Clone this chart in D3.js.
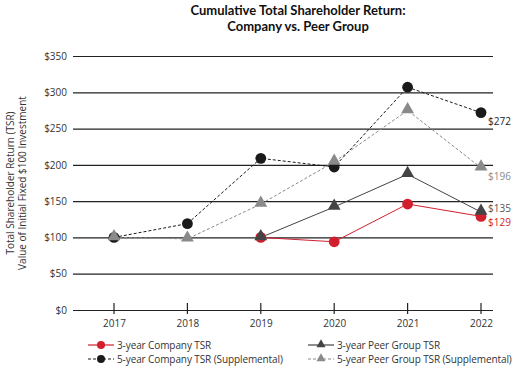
<!DOCTYPE html>
<html><head><meta charset="utf-8">
<script src="https://cdn.jsdelivr.net/npm/d3@7"></script>
<style>
body{margin:0;background:#fff;}
text{font-family:"Open Sans","DejaVu Sans",sans-serif;}
</style></head>
<body><svg id="c" width="516" height="374"></svg>
<script>
const years = ["2017","2018","2019","2020","2021","2022"];
const yTicks = [0,50,100,150,200,250,300,350];
const company3 = [null,null,100,94,146,129];
const peer3 = [null,null,100,142,187,135];
const company5 = [100,119,209,197,307,272];
const peer5 = [100,98,146,204,275,196];
const endLabels = ["$272","$196","$135","$129"];

const svg = d3.select("#c");
const x = d3.scalePoint().domain(years).range([114,481]);
const y = d3.scaleLinear().domain([0,350]).range([310,56]);
const gridX0 = 73, gridX1 = 493;

// title
const tfont = "Lato, 'Open Sans', sans-serif";
svg.append("text").attr("x",298).attr("y",15).attr("text-anchor","middle")
  .style("font-size","13px").style("font-weight","bold").style("font-family",tfont).attr("fill","#111")
  .text("Cumulative Total Shareholder Return:");
svg.append("text").attr("x",298).attr("y",31).attr("text-anchor","middle")
  .style("font-size","13px").style("font-weight","bold").style("font-family",tfont).attr("fill","#111")
  .text("Company vs. Peer Group");

// y axis title
const yt = svg.append("g").attr("transform","translate(14,183) rotate(-90)");
yt.append("text").attr("text-anchor","middle").attr("y",0).style("font-size","10px").attr("fill","#333")
  .text("Total Shareholder Return (TSR)");
yt.append("text").attr("text-anchor","middle").attr("y",12).style("font-size","10px").attr("fill","#333")
  .text("Value of Initial Fixed $100 Investment");

// gridlines + y labels
const yAxis = d3.axisLeft(y).tickValues(yTicks).tickSize(-(gridX1-gridX0)).tickFormat(d=>"$"+d).tickPadding(6);
const ga = svg.append("g").attr("transform",`translate(${gridX0},0)`).call(yAxis);
ga.select(".domain").remove();
ga.selectAll(".tick line").attr("stroke","#222").attr("stroke-width",1.2);
ga.selectAll(".tick text").style("font-size","10px").attr("fill","#333").style("font-family","'Open Sans',sans-serif");

// x axis ticks
const xAxis = d3.axisBottom(x).tickSizeInner(0).tickSizeOuter(0).tickPadding(10);
const gx = svg.append("g").attr("transform","translate(0,310)").call(xAxis);
gx.select(".domain").remove();
gx.selectAll(".tick text").style("font-size","10px").attr("fill","#333").style("font-family","'Open Sans',sans-serif");
svg.append("g").selectAll("line").data(years).join("line")
  .attr("x1",d=>x(d)).attr("x2",d=>x(d)).attr("y1",y(0)-7).attr("y2",y(0)+4)
  .attr("stroke","#222").attr("stroke-width",1.2);

const series = {
  peer5: {vals:peer5, color:"#8a8a8a", dash:"3,2", shape:"tri", lbl:endLabels[1], lblColor:"#8a8a8a", dy:12},
  company5: {vals:company5, color:"#1a1a1a", dash:"3,2", shape:"circ", lbl:endLabels[0], lblColor:"#222", dy:12},
  peer3: {vals:peer3, color:"#444", dash:null, shape:"tri", lbl:endLabels[2], lblColor:"#555", dy:0},
  company3: {vals:company3, color:"#d21f2d", dash:null, shape:"circ", lbl:endLabels[3], lblColor:"#d21f2d", dy:10},
};
const tri = d3.symbol().type(d3.symbolTriangle).size(72);
const line = d3.line().defined(d=>d.v!=null).x(d=>x(d.yr)).y(d=>y(d.v));
const ptsOf = s => years.map((yr,i)=>({yr, v:s.vals[i]}));

["peer5","company5","peer3","company3"].forEach(k=>{
  const s = series[k];
  svg.append("path").datum(ptsOf(s)).attr("d",line).attr("fill","none")
    .attr("stroke",s.color).attr("stroke-width",1).attr("stroke-dasharray",s.dash);
});
["company5","company3","peer3","peer5"].forEach(k=>{
  const s = series[k];
  const dp = ptsOf(s).filter(d=>d.v!=null);
  if(s.shape==="circ"){
    svg.append("g").selectAll("circle").data(dp).join("circle")
      .attr("cx",d=>x(d.yr)).attr("cy",d=>y(d.v)).attr("r",5.4).attr("fill",s.color);
  } else {
    svg.append("g").selectAll("path").data(dp).join("path")
      .attr("d",tri).attr("transform",d=>`translate(${x(d.yr)},${y(d.v)-1})`).attr("fill",s.color);
  }
  const last = dp[dp.length-1];
  svg.append("text").attr("x",x(last.yr)+7).attr("y",y(last.v)+s.dy)
    .style("font-size","10px").attr("fill",s.lblColor).text(s.lbl);
});

// legend
const legend = [
  {label:"3-year Company TSR", color:"#d21f2d", dash:null, shape:"circ", lx:88, ly:345},
  {label:"3-year Peer Group TSR", color:"#444", dash:null, shape:"tri", lx:308, ly:345},
  {label:"5-year Company TSR (Supplemental)", color:"#1a1a1a", dash:"3,2", shape:"circ", lx:88, ly:359},
  {label:"5-year Peer Group TSR (Supplemental)", color:"#8a8a8a", dash:"3,2", shape:"tri", lx:308, ly:359},
];
const lg = svg.append("g");
legend.forEach(l=>{
  lg.append("line").attr("x1",l.lx).attr("x2",l.lx+26).attr("y1",l.ly).attr("y2",l.ly)
    .attr("stroke",l.color).attr("stroke-width",1.2).attr("stroke-dasharray",l.dash);
  if(l.shape==="circ") lg.append("circle").attr("cx",l.lx+13).attr("cy",l.ly).attr("r",4).attr("fill",l.color);
  else lg.append("path").attr("d",d3.symbol().type(d3.symbolTriangle).size(36)).attr("transform",`translate(${l.lx+13},${l.ly-0.5})`).attr("fill",l.color);
  lg.append("text").attr("x",l.lx+29).attr("y",l.ly+3.5).style("font-size","10px").style("letter-spacing","-0.1px").attr("fill","#333").text(l.label);
});
</script></body></html>
